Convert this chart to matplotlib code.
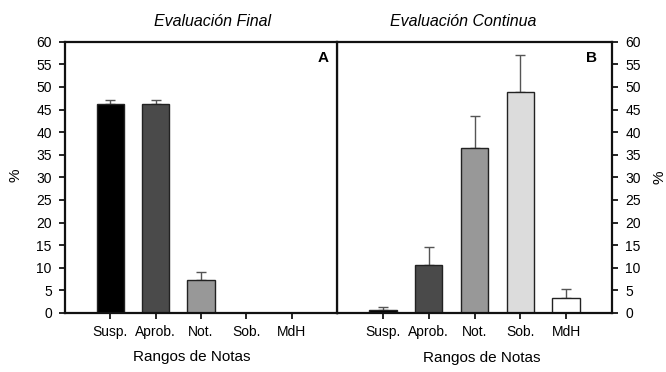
import matplotlib
matplotlib.use("Agg")
import matplotlib.pyplot as plt
import numpy as np

plt.rcParams['font.family'] = ['Liberation Sans', 'DejaVu Sans']

categories = ["Susp.", "Aprob.", "Not.", "Sob.", "MdH"]
final_values = [46.2, 46.2, 7.3, 0, 0]
final_err = [0.8, 0.8, 1.7, 0, 0]
cont_values = [0.6, 10.6, 36.6, 48.8, 3.4]
cont_err = [0.8, 4.1, 6.9, 8.2, 2.0]
bar_colors = ["#000000", "#4a4a4a", "#989898", "#dcdcdc", "#ffffff"]
yticks = list(range(0, 61, 5))

W, H = 666, 372
fig = plt.figure(figsize=(W / 100, H / 100), dpi=100)
bottom = 1 - 313 / H
height = 271.3 / H
axA = fig.add_axes([65 / W, bottom, 272 / W, height])
axB = fig.add_axes([337 / W, bottom, 275 / W, height])

x = np.arange(len(categories))
for ax, vals, errs in [(axA, final_values, final_err), (axB, cont_values, cont_err)]:
    ax.bar(x, vals, width=0.6, color=bar_colors, edgecolor="#222222", linewidth=1.0, zorder=2)
    ax.errorbar(x, vals, yerr=[np.zeros(len(errs)), errs], fmt="none",
                ecolor="#555555", elinewidth=1.0, capsize=3.5, capthick=1.0, zorder=1)
    ax.set_xlim(-1, 5)
    ax.set_ylim(0, 60)
    ax.set_xticks(x)
    ax.set_xticklabels(categories, fontsize=9.5)
    ax.set_yticks(yticks)
    ax.tick_params(axis="both", direction="out", length=4.5, width=1.2, labelsize=10, pad=5)
    ax.tick_params(axis="x", pad=4)
    for s in ax.spines.values():
        s.set_linewidth(1.6)
        s.set_color("#111111")

axA.yaxis.set_ticks_position("left")
axB.yaxis.set_ticks_position("right")
axB.spines["left"].set_linewidth(1.0)

axA.text(0.97, 0.94, "A", transform=axA.transAxes, ha="right", va="center",
         fontsize=11, fontweight="bold")
axB.text(0.945, 0.94, "B", transform=axB.transAxes, ha="right", va="center",
         fontsize=11, fontweight="bold")

fig.text(213 / W, 1 - 22 / H, "Evaluación Final", ha="center", va="center",
         fontsize=11.5, style="italic")
fig.text(463 / W, 1 - 22 / H, "Evaluación Continua", ha="center", va="center",
         fontsize=11.5, style="italic")
fig.text(192 / W, 1 - 357 / H, "Rangos de Notas", ha="center", va="center", fontsize=11)
fig.text(482 / W, 1 - 358 / H, "Rangos de Notas", ha="center", va="center", fontsize=11)
fig.text(16 / W, 1 - 175 / H, "%", ha="center", va="center", fontsize=11, rotation=90)
fig.text(660 / W, 1 - 177 / H, "%", ha="center", va="center", fontsize=11, rotation=90)

fig.savefig("out.png", dpi=100)
